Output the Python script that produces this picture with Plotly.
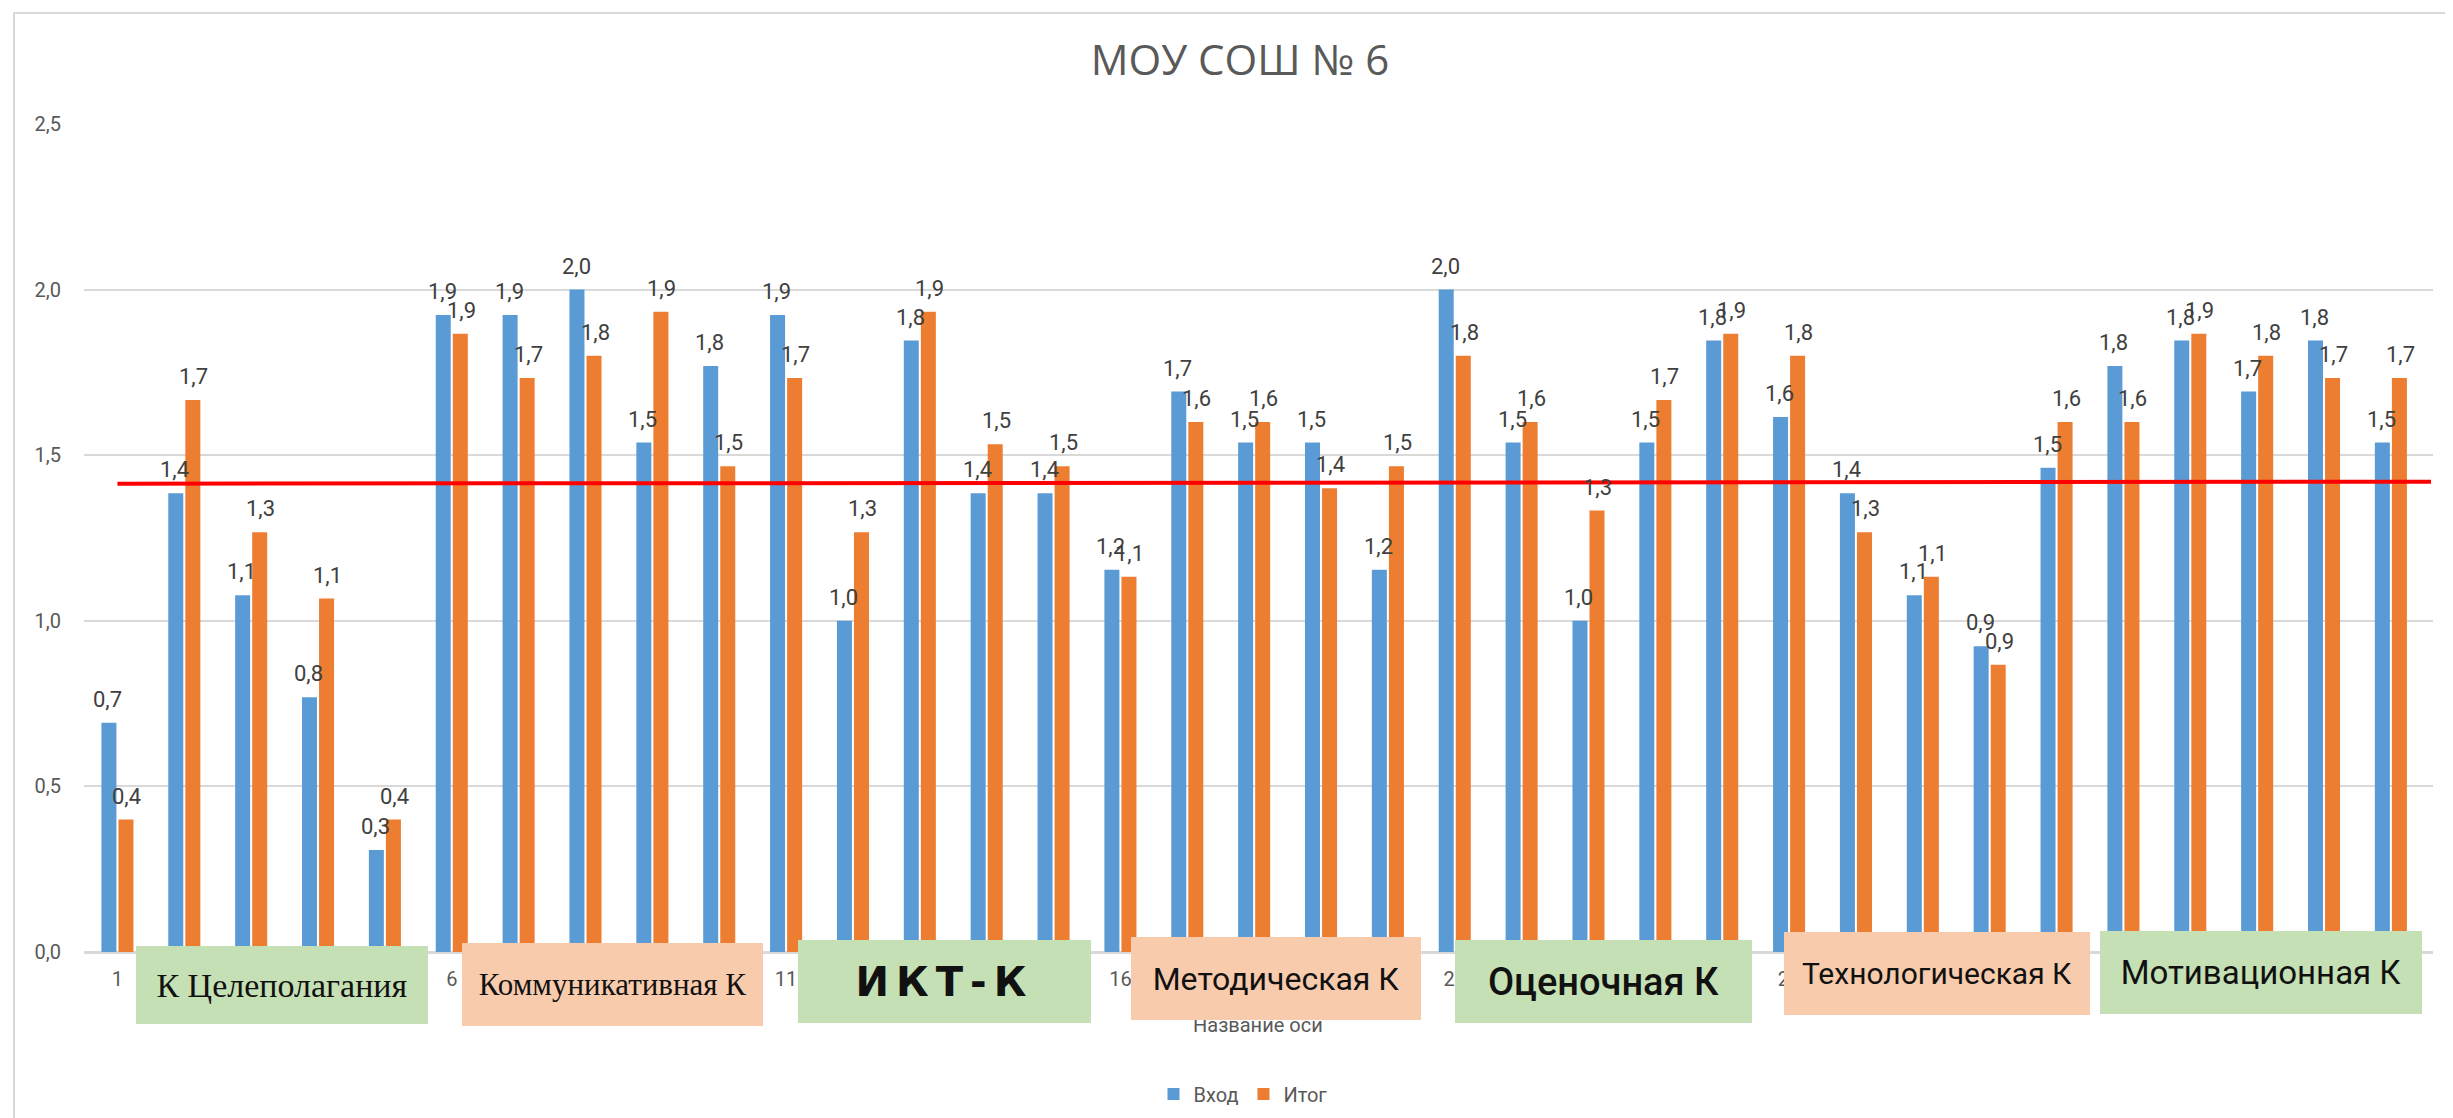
import plotly.graph_objects as go

categories = [str(i) for i in range(1, 36)]
vhod = [0.692, 1.385, 1.077, 0.769, 0.308, 1.923, 1.923, 2.000, 1.538, 1.769,
        1.923, 1.000, 1.846, 1.385, 1.385, 1.154, 1.692, 1.538, 1.538, 1.154,
        2.000, 1.538, 1.000, 1.538, 1.846, 1.615, 1.385, 1.077, 0.923, 1.462,
        1.769, 1.846, 1.692, 1.846, 1.538]
itog = [0.400, 1.667, 1.267, 1.067, 0.400, 1.867, 1.733, 1.800, 1.933, 1.467,
        1.733, 1.267, 1.933, 1.533, 1.467, 1.133, 1.600, 1.600, 1.400, 1.467,
        1.800, 1.600, 1.333, 1.667, 1.867, 1.800, 1.267, 1.133, 0.867, 1.600,
        1.600, 1.867, 1.800, 1.733, 1.733]
avg_line = [1.414, 1.420]
shown_ticks = ["1", "6", "11", "16", "21", "26", "31"]
group_labels = ["К Целеполагания", "Коммуникативная К", "ИКТ-К", "Методическая К",
                "Оценочная К", "Технологическая К", "Мотивационная К"]

W, H = 2453, 1118
L, R, T, B = 76, 2425, 116, 944


def px(xpix):
    return (xpix - L) / (R - L)


def py(ypix):
    return (B - ypix) / (B - T)


BLUE = "#5B9BD5"
ORANGE = "#ED7D31"
GREEN = "#C5E0B4"
PEACH = "#F8CBAD"
GREY = "#595959"

fig = go.Figure()
fig.add_trace(go.Bar(x=categories, y=vhod, name="Вход", marker=dict(color=BLUE, line=dict(width=0))))
fig.add_trace(go.Bar(x=categories, y=itog, name="Итог", marker=dict(color=ORANGE, line=dict(width=0))))

annotations = []
# data labels (x given as category index so "1".."35" are not read as numbers)
for series, shift in ((vhod, -9.5), (itog, 9.5)):
    for idx, v in enumerate(series):
        annotations.append(dict(
            x=idx, y=v, xref="x", yref="y", text=f"{v:.1f}".replace(".", ","),
            showarrow=False, xanchor="center", yanchor="bottom", xshift=shift, yshift=9,
            font=dict(family="Roboto", size=22, color="#404040")))

# axis title (drawn before the boxes so boxes overlap it)
annotations.append(dict(x=px(1250), y=py(1017), xref="paper", yref="paper", text="Название оси",
                        showarrow=False, xanchor="center", yanchor="middle",
                        font=dict(family="Roboto", size=20, color=GREY)))

boxes = [
    (128, 420, 938, 1016, GREEN, dict(family="Liberation Serif", size=34, color="#111111"), None),
    (454, 755, 935, 1018, PEACH, dict(family="Liberation Serif", size=31, color="#111111"), None),
    (790, 1083, 932, 1015, GREEN, dict(family="DejaVu Sans", size=40, color="#111111", weight="bold"), 7),
    (1123, 1413, 929, 1012, PEACH, dict(family="Roboto", size=32, color="#111111"), None),
    (1447, 1744, 932, 1015, GREEN, dict(family="Roboto", size=38, color="#111111", weight=500), None),
    (1776, 2082, 924, 1007, PEACH, dict(family="Roboto", size=30, color="#111111"), None),
    (2092, 2414, 923, 1006, GREEN, dict(family="Roboto", size=33, color="#111111"), None),
]
for label, (x0, x1, y0, y1, col, fnt, ls) in zip(group_labels, boxes):
    txt = label if ls is None else f'<span style="letter-spacing:{ls}px">{label}</span>'
    annotations.append(dict(
        x=px((x0 + x1) / 2), y=py((y0 + y1) / 2), xref="paper", yref="paper",
        xanchor="center", yanchor="middle", showarrow=False,
        width=x1 - x0, height=y1 - y0, bgcolor=col, borderpad=0, borderwidth=0,
        text=txt, font=fnt, align="center", valign="middle"))

shapes = [
    dict(type="rect", xref="paper", yref="paper", x0=px(6), x1=px(2470), y0=py(5), y1=py(1130),
         line=dict(color="#D9D9D9", width=2), fillcolor="rgba(0,0,0,0)", layer="below"),
    dict(type="line", xref="x", yref="y", x0=0, x1=34.6, y0=avg_line[0], y1=avg_line[1],
         line=dict(color="#FF0000", width=4), layer="above"),
]

fig.update_layout(
    width=W, height=H,
    margin=dict(l=L, r=W - R, t=T, b=H - B, autoexpand=False),
    paper_bgcolor="white", plot_bgcolor="white",
    separators=", ",
    barmode="group", bargap=0.49, bargroupgap=0.12,
    title=dict(text="МОУ СОШ № 6", x=px(1232), xref="paper", xanchor="center",
               y=1 - 52 / H, yanchor="middle",
               font=dict(family="Open Sans", size=42, color=GREY)),
    font=dict(family="Roboto", color=GREY),
    xaxis=dict(type="category", tickmode="array", tickvals=shown_ticks, ticktext=shown_ticks,
               showgrid=False, ticks="", showline=True, linecolor="#D9D9D9", linewidth=2,
               tickfont=dict(family="Roboto", size=20, color=GREY), ticklabelstandoff=8),
    yaxis=dict(range=[0, 2.5], dtick=0.5, tickformat=".1f", showgrid=True, gridcolor="#D9D9D9",
               gridwidth=2, zeroline=True, zerolinecolor="#D9D9D9", zerolinewidth=2, ticks="",
               tickfont=dict(family="Roboto", size=20, color=GREY), ticklabelstandoff=22),
    legend=dict(orientation="h", x=px(1235), xanchor="center", y=py(1086), yanchor="middle",
                font=dict(family="Roboto", size=20, color=GREY), itemwidth=30, traceorder="normal"),
    annotations=annotations,
    shapes=shapes,
)

fig.write_html("out.html")
